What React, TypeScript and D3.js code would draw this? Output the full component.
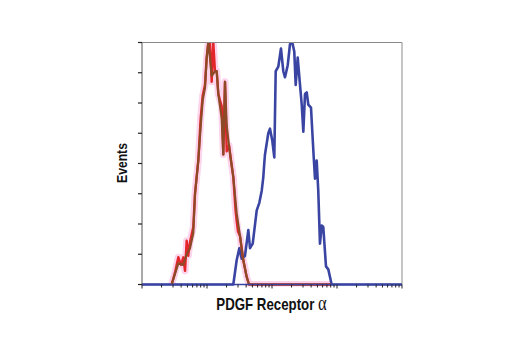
import React from "react";
import * as d3 from "d3";

// Fluorescence intensity (log axis) and event counts
const blueX = [1, 25.4, 28.6, 31.4, 34.2, 38.4, 43.2, 45.9, 50.5, 58.2, 63.8, 69.5, 73.5, 76, 78, 87.7, 93.1, 101.1, 108.5, 114, 125, 137.5, 149.2, 158.5, 174.5, 189.3, 205.3, 220.2, 231.5, 248.5, 269.8, 286.5, 303.4, 322, 342, 361.6, 398, 417, 438.5, 459, 487, 515, 547, 581, 615, 677, 735, 780, 828, 10000];
const blueY = [0, 0, 16, 24, 17, 19, 36, 24, 27, 49, 54, 62, 71, 80, 86, 100, 103, 95, 84, 141, 144, 156, 141, 137, 145, 159, 160, 154, 132, 150, 132, 119, 101, 126, 127, 119, 117, 101, 84, 70, 82, 62, 27, 39, 38, 12, 10, 5, 0, 0];

const redX = [2.86, 3.22, 3.62, 3.98, 4.32, 4.59, 4.87, 5.15, 5.47, 6.15, 6.54, 7.35, 8.0, 8.59, 9.31, 9.89, 10.47, 11.12, 11.81, 12.5, 13.27, 14.1, 14.93, 15.8, 16.83, 17.82, 18.92, 20.09, 21.79, 23.39, 25.4, 27.5, 28.6, 30, 32.2, 36.2, 40.8, 44.3, 800];
const redY = [0, 8, 18, 13, 18, 9, 29, 19, 28, 38, 60, 82, 110, 125, 132, 150, 160, 160, 134, 160, 141, 141, 126, 122, 118, 86, 134, 88, 92, 82, 71, 49, 42, 35, 32, 16, 5, 0, 0];

const brownX = [2.86, 3.22, 3.62, 4.32, 4.87, 5.47, 6.15, 6.54, 7.35, 8.0, 8.59, 9.31, 9.89, 10.47, 11.12, 11.81, 13.27, 14.1, 14.93, 16.83, 17.82, 18.92, 20.09, 21.79, 23.39, 25.4, 28.6, 32.2, 36.2, 40.8, 44.3, 800];
const brownY = [0, 7, 14, 13, 20, 24, 34, 60, 82, 105, 122, 130, 150, 160, 150, 138, 141, 141, 126, 110, 86, 134, 105, 92, 82, 71, 47, 32, 16, 5, 0, 0];

const yTickValues = [0, 20, 40, 60, 80, 100, 120, 140, 160];
const xTitle = "PDGF Receptor ";
const xTitleGreek = "α";
const yTitle = "Events";

const W = 520, H = 350;
const L = 142, R = 402, T = 42.5, B = 284.5;

export default function App() {
  const x = d3.scaleLog().domain([1, 10000]).range([L, R]);
  const y = d3.scaleLinear().domain([0, 160]).range([B, T]);
  const line = d3.line<[number, number]>().x(d => x(d[0])).y(d => y(d[1]));
  const zip = (a: number[], b: number[]) => a.map((v, i) => [v, b[i]] as [number, number]);
  const blue = line(zip(blueX, blueY)) || "";
  const red = line(zip(redX, redY)) || "";
  const brown = line(zip(brownX, brownY)) || "";
  const xTicks = x.ticks();
  const isMajor = (v: number) => Math.abs(Math.log10(v) - Math.round(Math.log10(v))) < 1e-9;
  const font = "'Liberation Sans', Arial, sans-serif";

  return (
    <svg width={W} height={H} style={{ position: "absolute", left: 0, top: 0, background: "#fff" }}>
      <defs>
        <clipPath id="plot"><rect x={L} y={T} width={R - L} height={B - T + 2} /></clipPath>
      </defs>
      <g clipPath="url(#plot)">
        <path d={red} fill="none" stroke="#fcd4ec" strokeWidth={7} strokeLinejoin="round" />
        <path d={blue} fill="none" stroke="#3a44a2" strokeWidth={2.6} strokeLinejoin="round" />
        <path d={red} fill="none" stroke="#e3262b" strokeWidth={2.4} strokeLinejoin="round" />
        <path d={brown} fill="none" stroke="#8c4a26" strokeWidth={2.2} strokeLinejoin="round" />
      </g>
      {/* frame */}
      <line x1={L} y1={T} x2={R} y2={T} stroke="#8a8a8a" strokeWidth={1} />
      <line x1={R} y1={T} x2={R} y2={B} stroke="#8a8a8a" strokeWidth={1} />
      <line x1={L} y1={T} x2={L} y2={B} stroke="#555" strokeWidth={1} />
      <line x1={L} y1={B} x2={R} y2={B} stroke="#3a44a2" strokeWidth={1.4} />
      {yTickValues.map(v => (
        <line key={"y" + v} x1={L - 4} x2={L} y1={y(v)} y2={y(v)} stroke="#222" strokeWidth={1.2} />
      ))}
      {xTicks.map((v, i) => (
        <line key={"x" + i} x1={x(v)} x2={x(v)} y1={B} y2={B + (isMajor(v) ? 4 : 3)} stroke="#222" strokeWidth={1} />
      ))}
      <g transform="translate(127,163) rotate(-90) scale(0.84,1)">
        <text textAnchor="middle" fontFamily={font} fontWeight="bold" fontSize={14.5} fill="#111">{yTitle}</text>
      </g>
      <g transform="translate(271.5,310) scale(0.83,1)">
        <text textAnchor="middle" fontFamily={font} fontWeight="bold" fontSize={16} fill="#111">
          {xTitle}<tspan fontFamily="'Liberation Serif', 'DejaVu Serif', serif" fontWeight="normal" fontSize={20}>{xTitleGreek}</tspan>
        </text>
      </g>
    </svg>
  );
}
